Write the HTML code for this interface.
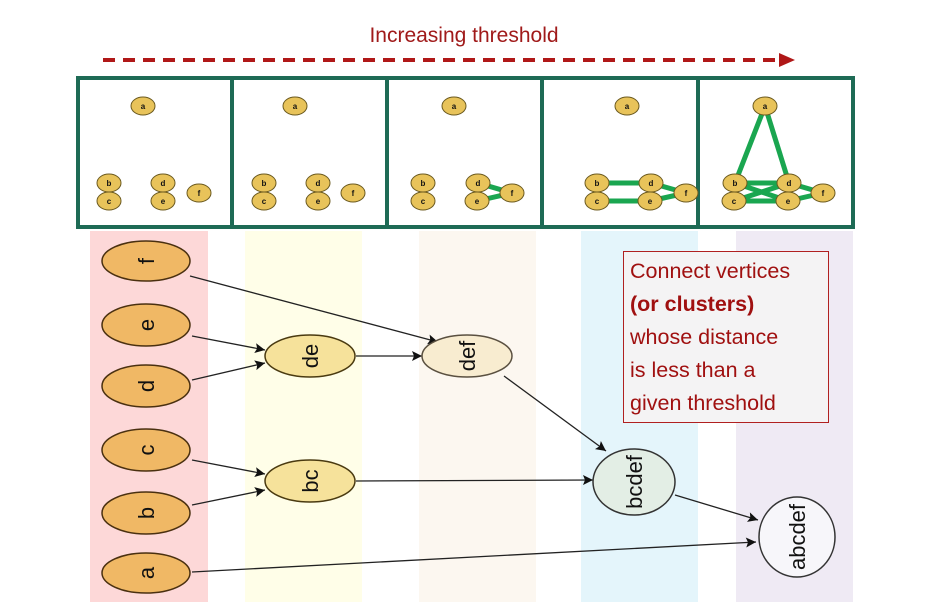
<!DOCTYPE html>
<html><head><meta charset="utf-8"><style>
html,body{margin:0;padding:0;background:#fff;width:936px;height:612px;overflow:hidden}
svg text{font-family:"Liberation Sans",sans-serif}
</style></head><body>
<svg width="936" height="612" viewBox="0 0 936 612" xmlns="http://www.w3.org/2000/svg">
<defs>
<marker id="ah" viewBox="0 0 10 10" refX="10" refY="5" markerWidth="9" markerHeight="7" markerUnits="userSpaceOnUse" orient="auto"><path d="M0,0 L10,5 L0,10 z" fill="#111"/></marker>
<marker id="ah2" viewBox="0 0 10 10" refX="10" refY="5" markerWidth="22" markerHeight="10" markerUnits="userSpaceOnUse" orient="auto"><path d="M0,0 L10,5 L0,10 L2,5 z" fill="#111"/></marker>
</defs>
<!-- title -->
<text x="464" y="42" text-anchor="middle" font-size="21" fill="#a01a1a" style="font-family:'Liberation Sans',sans-serif">Increasing threshold</text>
<line x1="103" y1="60" x2="780" y2="60" stroke="#b01818" stroke-width="4" stroke-dasharray="12,8"/>
<path d="M779,53 L795,60 L779,67 z" fill="#b01818"/>
<!-- bands -->
<rect x="90" y="231" width="118" height="371" fill="#fdd8d8"/>
<rect x="245" y="231" width="117" height="371" fill="#fffee8"/>
<rect x="419" y="231" width="117" height="371" fill="#fcf7f0"/>
<rect x="581" y="231" width="117" height="371" fill="#e4f5fb"/>
<rect x="736" y="231" width="117" height="371" fill="#efeaf4"/>
<!-- top panel -->
<rect x="78" y="78" width="775" height="149" fill="#fff" stroke="#1e6b55" stroke-width="4"/>
<g stroke="#1e6b55" stroke-width="4">
<line x1="232" y1="78" x2="232" y2="227"/><line x1="387" y1="78" x2="387" y2="227"/><line x1="542" y1="78" x2="542" y2="227"/><line x1="698" y1="78" x2="698" y2="227"/>
</g>
<!-- green edges -->
<g stroke="#1aa650" stroke-width="5">
<line x1="478" y1="183" x2="512" y2="193"/><line x1="477" y1="201" x2="512" y2="193"/>
<line x1="597" y1="183" x2="651" y2="183"/><line x1="597" y1="201" x2="650" y2="201"/><line x1="651" y1="183" x2="686" y2="193"/><line x1="650" y1="201" x2="686" y2="193"/>
<line x1="765" y1="106" x2="735" y2="183"/><line x1="765" y1="106" x2="789" y2="183"/>
<line x1="735" y1="183" x2="789" y2="183"/><line x1="734" y1="201" x2="788" y2="201"/><line x1="735" y1="183" x2="788" y2="201"/><line x1="734" y1="201" x2="789" y2="183"/>
<line x1="789" y1="183" x2="823" y2="193"/><line x1="788" y1="201" x2="823" y2="193"/>
</g>
<g fill="#e8c35a" stroke="#6b5a20" stroke-width="1">
<ellipse cx="143" cy="106" rx="12" ry="9"/><ellipse cx="109" cy="183" rx="12" ry="9"/><ellipse cx="109" cy="201" rx="12" ry="9"/><ellipse cx="163" cy="183" rx="12" ry="9"/><ellipse cx="163" cy="201" rx="12" ry="9"/><ellipse cx="199" cy="193" rx="12" ry="9"/>
<ellipse cx="295" cy="106" rx="12" ry="9"/><ellipse cx="264" cy="183" rx="12" ry="9"/><ellipse cx="264" cy="201" rx="12" ry="9"/><ellipse cx="318" cy="183" rx="12" ry="9"/><ellipse cx="318" cy="201" rx="12" ry="9"/><ellipse cx="353" cy="193" rx="12" ry="9"/>
<ellipse cx="454" cy="106" rx="12" ry="9"/><ellipse cx="423" cy="183" rx="12" ry="9"/><ellipse cx="423" cy="201" rx="12" ry="9"/><ellipse cx="478" cy="183" rx="12" ry="9"/><ellipse cx="477" cy="201" rx="12" ry="9"/><ellipse cx="512" cy="193" rx="12" ry="9"/>
<ellipse cx="627" cy="106" rx="12" ry="9"/><ellipse cx="597" cy="183" rx="12" ry="9"/><ellipse cx="597" cy="201" rx="12" ry="9"/><ellipse cx="651" cy="183" rx="12" ry="9"/><ellipse cx="650" cy="201" rx="12" ry="9"/><ellipse cx="686" cy="193" rx="12" ry="9"/>
<ellipse cx="765" cy="106" rx="12" ry="9"/><ellipse cx="735" cy="183" rx="12" ry="9"/><ellipse cx="734" cy="201" rx="12" ry="9"/><ellipse cx="789" cy="183" rx="12" ry="9"/><ellipse cx="788" cy="201" rx="12" ry="9"/><ellipse cx="823" cy="193" rx="12" ry="9"/>
</g>
<g font-size="8" font-weight="bold" text-anchor="middle" fill="#111">
<text x="143" y="109">a</text><text x="109" y="186">b</text><text x="109" y="204">c</text><text x="163" y="186">d</text><text x="163" y="204">e</text><text x="199" y="196">f</text>
<text x="295" y="109">a</text><text x="264" y="186">b</text><text x="264" y="204">c</text><text x="318" y="186">d</text><text x="318" y="204">e</text><text x="353" y="196">f</text>
<text x="454" y="109">a</text><text x="423" y="186">b</text><text x="423" y="204">c</text><text x="478" y="186">d</text><text x="477" y="204">e</text><text x="512" y="196">f</text>
<text x="627" y="109">a</text><text x="597" y="186">b</text><text x="597" y="204">c</text><text x="651" y="186">d</text><text x="650" y="204">e</text><text x="686" y="196">f</text>
<text x="765" y="109">a</text><text x="735" y="186">b</text><text x="734" y="204">c</text><text x="789" y="186">d</text><text x="788" y="204">e</text><text x="823" y="196">f</text>
</g>
<!-- dendrogram edges -->
<g stroke="#222" stroke-width="1.3" fill="none">
<line x1="190" y1="276" x2="438" y2="342" marker-end="url(#ah2)"/>
<line x1="192" y1="336" x2="265" y2="350" marker-end="url(#ah2)"/>
<line x1="192" y1="380" x2="265" y2="363" marker-end="url(#ah2)"/>
<line x1="356" y1="356" x2="422" y2="356" marker-end="url(#ah2)"/>
<line x1="504" y1="376" x2="606" y2="451" marker-end="url(#ah2)"/>
<line x1="192" y1="460" x2="265" y2="474" marker-end="url(#ah2)"/>
<line x1="192" y1="505" x2="265" y2="490" marker-end="url(#ah2)"/>
<line x1="356" y1="481" x2="593" y2="480" marker-end="url(#ah2)"/>
<line x1="675" y1="495" x2="758" y2="520" marker-end="url(#ah2)"/>
<line x1="192" y1="572" x2="756" y2="542" marker-end="url(#ah2)"/>
</g>
<!-- left nodes -->
<g fill="#f0b865" stroke="#4a3010" stroke-width="1.5">
<ellipse cx="146" cy="261" rx="44" ry="20"/><ellipse cx="146" cy="325" rx="44" ry="21"/><ellipse cx="146" cy="386" rx="44" ry="21"/>
<ellipse cx="146" cy="450" rx="44" ry="21"/><ellipse cx="146" cy="513" rx="44" ry="21"/><ellipse cx="146" cy="573" rx="44" ry="20"/>
</g>
<ellipse cx="310" cy="356" rx="45" ry="21" fill="#f6e29b" stroke="#4a3a10" stroke-width="1.5"/>
<ellipse cx="310" cy="481" rx="45" ry="21" fill="#f6e29b" stroke="#4a3a10" stroke-width="1.5"/>
<ellipse cx="467" cy="356" rx="45" ry="21" fill="#f8ecd0" stroke="#5a5040" stroke-width="1.5"/>
<ellipse cx="634" cy="482" rx="41" ry="33" fill="#e3eee5" stroke="#333" stroke-width="1.5"/>
<ellipse cx="797" cy="537" rx="38" ry="40" fill="#f7f6fa" stroke="#333" stroke-width="1.5"/>
<g font-size="22" fill="#111" text-anchor="middle">
<text transform="translate(146,261) rotate(-90)" dy="8">f</text>
<text transform="translate(146,325) rotate(-90)" dy="8">e</text>
<text transform="translate(146,386) rotate(-90)" dy="8">d</text>
<text transform="translate(146,450) rotate(-90)" dy="8">c</text>
<text transform="translate(146,513) rotate(-90)" dy="8">b</text>
<text transform="translate(146,573) rotate(-90)" dy="8">a</text>
<text transform="translate(310,356) rotate(-90)" dy="8">de</text>
<text transform="translate(310,481) rotate(-90)" dy="8">bc</text>
<text transform="translate(467,356) rotate(-90)" dy="8">def</text>
<text transform="translate(634,482) rotate(-90)" dy="8">bcdef</text>
<text transform="translate(797,537) rotate(-90)" dy="8">abcdef</text>
</g>
<!-- text box -->
<rect x="623.5" y="251.5" width="205" height="171" fill="#f4f3f4" stroke="#b02020" stroke-width="1"/>
<g font-size="21.5" fill="#a01010">
<text x="630" y="278">Connect vertices</text>
<text x="630" y="311" font-weight="bold">(or clusters)</text>
<text x="630" y="344">whose distance</text>
<text x="630" y="377">is less than a</text>
<text x="630" y="410">given threshold</text>
</g>
</svg>
</body></html>
